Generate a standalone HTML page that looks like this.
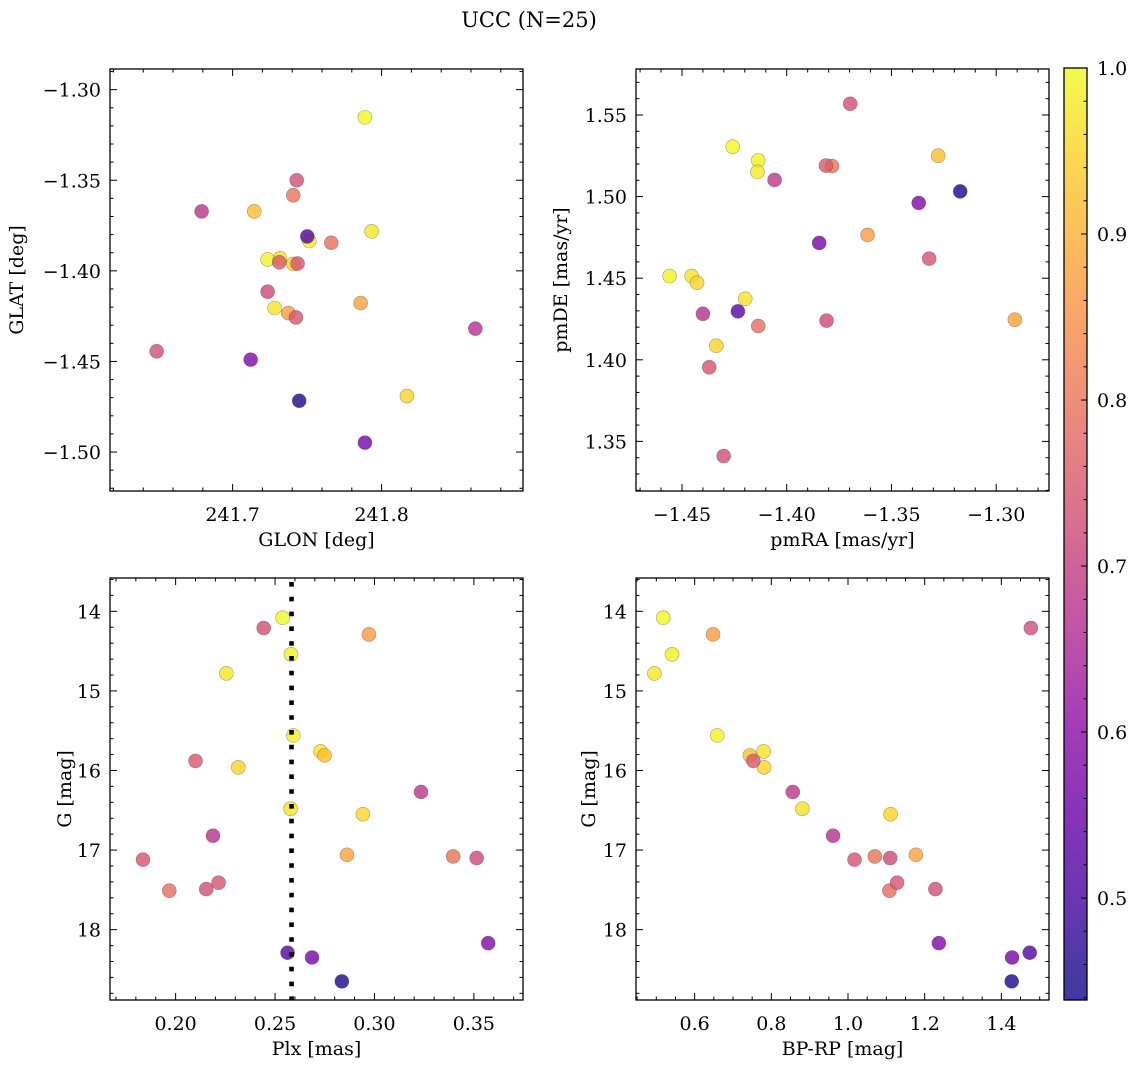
<!DOCTYPE html>
<html><head><meta charset="utf-8"><style>
html,body{margin:0;padding:0;background:#fff;}
svg{display:block;font-family:"DejaVu Serif","Liberation Serif",serif;}
</style></head><body>
<svg id="fig" width="1136" height="1068" viewBox="0 0 1136 1068" xmlns="http://www.w3.org/2000/svg">
<defs>
<linearGradient id="plasma" x1="0" y1="1" x2="0" y2="0">
<stop offset="0" stop-color="#0d0887"/><stop offset="0.1" stop-color="#41049d"/><stop offset="0.2" stop-color="#6a00a8"/><stop offset="0.3" stop-color="#8f0da4"/><stop offset="0.4" stop-color="#b12a90"/><stop offset="0.5" stop-color="#cc4778"/><stop offset="0.6" stop-color="#e16462"/><stop offset="0.7" stop-color="#f2844b"/><stop offset="0.8" stop-color="#fca636"/><stop offset="0.9" stop-color="#fcce25"/><stop offset="1" stop-color="#f0f921"/>
</linearGradient>
</defs>
<text x="529" y="27" text-anchor="middle" font-size="21">UCC (N=25)</text>
</svg>
<script>
const glon = [241.7888,241.7515,241.7933,241.7235,241.7318,241.7407,241.7282,241.8170,241.7145,241.7374,241.7859,241.7407,241.7662,241.7430,241.7313,241.7436,241.7235,241.7425,241.6490,241.6792,241.8629,241.7121,241.7888,241.7501,241.7447];
const glat = [-1.3153,-1.3835,-1.3782,-1.3937,-1.3931,-1.3962,-1.4205,-1.4691,-1.3672,-1.4233,-1.4178,-1.3583,-1.3845,-1.3500,-1.3953,-1.3960,-1.4115,-1.4257,-1.4444,-1.3672,-1.4319,-1.4490,-1.4948,-1.3810,-1.4717];
const pmra = [-1.4258,-1.4136,-1.4140,-1.4559,-1.4454,-1.4428,-1.4198,-1.4336,-1.3277,-1.3614,-1.2911,-1.3784,-1.4136,-1.3697,-1.3813,-1.3320,-1.3810,-1.4370,-1.4301,-1.4058,-1.4400,-1.3370,-1.3845,-1.4233,-1.3172];
const pmde = [1.5306,1.5222,1.5151,1.4513,1.4513,1.4472,1.4374,1.4086,1.5251,1.4765,1.4246,1.5187,1.4207,1.5569,1.5190,1.4620,1.4240,1.3954,1.3410,1.5102,1.4282,1.4961,1.4716,1.4297,1.5032];
const plx = [0.2538,0.2580,0.2255,0.2592,0.2729,0.2315,0.2578,0.2942,0.2749,0.2972,0.2862,0.3396,0.1968,0.2443,0.2100,0.1836,0.3514,0.2216,0.2154,0.3234,0.2188,0.3572,0.2686,0.2563,0.2836];
const gmag = [14.08,14.54,14.78,15.56,15.76,15.96,16.48,16.55,15.81,14.29,17.06,17.08,17.51,14.21,15.88,17.12,17.10,17.41,17.49,16.27,16.82,18.17,18.35,18.29,18.65];
const bprp = [0.518,0.541,0.495,0.659,0.780,0.781,0.881,1.111,0.744,0.648,1.177,1.070,1.108,1.477,0.753,1.017,1.110,1.128,1.228,0.856,0.961,1.237,1.428,1.474,1.427];
const prob = [1.00,0.99,0.98,0.99,0.97,0.95,0.97,0.95,0.92,0.87,0.88,0.80,0.79,0.73,0.75,0.74,0.72,0.74,0.73,0.68,0.67,0.58,0.57,0.52,0.45];
const plxMedian = 0.2583;
const cbTicks = [0.5,0.6,0.7,0.8,0.9,1.0];

const NS="http://www.w3.org/2000/svg";
const svg=document.getElementById('fig');
const vmin=0.4386, vmax=1.0;
const stops=[[13,8,135],[65,4,157],[106,0,168],[143,13,164],[177,42,144],[204,71,120],[225,100,98],[242,132,75],[252,166,54],[252,206,37],[240,249,33]];
function cmap(v){let t=(v-vmin)/(vmax-vmin);t=Math.max(0,Math.min(1,t));const f=t*10;const i=Math.min(9,Math.floor(f));const r=f-i;const a=stops[i],b=stops[i+1];
return 'rgb('+[0,1,2].map(k=>Math.round(a[k]+(b[k]-a[k])*r)).join(',')+')';}
function mk(tag,attrs,parent){const e=document.createElementNS(NS,tag);for(const k in attrs)e.setAttribute(k,attrs[k]);(parent||svg).appendChild(e);return e;}
function fmt(v,d){const s=Math.abs(v).toFixed(d);return (v<0?'\u2212':'')+s;}
const FS=19;
const panels=[
 {name:'sky',x:110,y:69,xs:glon,ys:glat,xmin:241.6177,xmax:241.8949,ymin:-1.5215,ymax:-1.2886,inv:false,
  xmaj:[241.7,241.8],xminor:0.02,xd:1,ymaj:[-1.50,-1.45,-1.40,-1.35,-1.30],yminor:0.01,yd:2,xl:'GLON [deg]',yl:'GLAT [deg]',ylx:18},
 {name:'pm',x:636,y:69,xs:pmra,ys:pmde,xmin:-1.47195,xmax:-1.2748,ymin:1.3196,ymax:1.5782,inv:false,
  xmaj:[-1.45,-1.40,-1.35,-1.30],xminor:0.01,xd:2,ymaj:[1.35,1.40,1.45,1.50,1.55],yminor:0.01,yd:2,xl:'pmRA [mas/yr]',yl:'pmDE [mas/yr]',ylx:562},
 {name:'plx-g',x:110,y:578,xs:plx,ys:gmag,xmin:0.167,xmax:0.3747,ymin:13.581,ymax:18.884,inv:true,
  xmaj:[0.20,0.25,0.30,0.35],xminor:0.01,xd:2,ymaj:[14,15,16,17,18],yminor:0.2,yd:0,xl:'Plx [mas]',yl:'G [mag]',ylx:66},
 {name:'cmd',x:636,y:578,xs:bprp,ys:gmag,xmin:0.447,xmax:1.5243,ymin:13.581,ymax:18.884,inv:true,
  xmaj:[0.6,0.8,1.0,1.2,1.4],xminor:0.05,xd:1,ymaj:[14,15,16,17,18],yminor:0.2,yd:0,xl:'BP-RP [mag]',yl:'G [mag]',ylx:590}
];
const W=413,H=422;
panels.forEach(p=>{
 const g=mk('g',{});
 
 
 const X=v=>p.x+(v-p.xmin)/(p.xmax-p.xmin)*W;
 const Y=v=>p.inv? p.y+(v-p.ymin)/(p.ymax-p.ymin)*H : p.y+H-(v-p.ymin)/(p.ymax-p.ymin)*H;
 const tk=mk('g',{stroke:'#000','stroke-width':1},g);
 
 
 for(let v=Math.ceil(p.xmin/p.xminor-1e-6)*p.xminor;v<=p.xmax;v+=p.xminor){const px=X(v);
  const maj=p.xmaj.some(m=>Math.abs(m-v)<p.xminor/10);const L=maj?7:3.5;
  mk('line',{x1:px,x2:px,y1:p.y+H,y2:p.y+H-L},tk);mk('line',{x1:px,x2:px,y1:p.y,y2:p.y+L},tk);}
 for(let v=Math.ceil(p.ymin/p.yminor-1e-6)*p.yminor;v<=p.ymax;v+=p.yminor){const py=Y(v);
  const maj=p.ymaj.some(m=>Math.abs(m-v)<p.yminor/10);const L=maj?7:3.5;
  mk('line',{x1:p.x,x2:p.x+L,y1:py,y2:py},tk);mk('line',{x1:p.x+W,x2:p.x+W-L,y1:py,y2:py},tk);}
 p.xmaj.forEach(v=>{const t=mk('text',{x:X(v),y:p.y+H+30,'text-anchor':'middle','font-size':FS},g);t.textContent=fmt(v,p.xd);
  
  });
 p.ymaj.forEach(v=>{const t=mk('text',{x:p.x-9,y:Y(v)+7,'text-anchor':'end','font-size':FS},g);t.textContent=fmt(v,p.yd);
  
  });
 const xl=mk('text',{x:p.x+W/2,y:p.y+H+55,'text-anchor':'middle','font-size':FS},g);xl.textContent=p.xl;
 
 
 const yl=mk('text',{x:p.ylx,y:p.y+H/2,'text-anchor':'middle','font-size':FS,transform:'rotate(-90 '+p.ylx+' '+(p.y+H/2)+')','dominant-baseline':'middle'},g);yl.textContent=p.yl;
 
 
 p.xs.forEach((xv,i)=>{const c=mk('circle',{cx:X(xv),cy:Y(p.ys[i]),r:7,fill:cmap(prob[i]),'fill-opacity':0.8,stroke:'rgba(60,60,60,0.45)','stroke-width':0.6},g);
  
  });
 if(p.name==='plx-g'){const ln=mk('line',{x1:X(plxMedian),x2:X(plxMedian),y1:p.y+4,y2:p.y+H,stroke:'#000','stroke-width':4.6,'stroke-dasharray':'4.6 10.2'},g);
  
  }
 const fr=mk('rect',{x:p.x,y:p.y,width:W,height:H,fill:'none',stroke:'#000','stroke-width':1.3},g);
 
 
});
const cb=mk('g',{});


const cbx=1064,cby=68,cbw=23,cbh=932;
mk('rect',{x:cbx,y:cby,width:cbw,height:cbh,fill:'url(#plasma)','fill-opacity':0.8},cb);
const CY=v=>cby+(vmax-v)/(vmax-vmin)*cbh;
for(let v=0.44;v<=1.0001;v+=0.02){const py=CY(v);const maj=Math.abs(v*10-Math.round(v*10))<1e-6;
 mk('line',{x1:cbx+cbw,x2:cbx+cbw-(maj?6:3.5),y1:py,y2:py,stroke:'#000','stroke-width':1},cb);}
cbTicks.forEach(v=>{const t=mk('text',{x:cbx+cbw+10,y:CY(v)+7,'font-size':FS},cb);t.textContent=v.toFixed(1);
 
 });
mk('rect',{x:cbx,y:cby,width:cbw,height:cbh,fill:'none',stroke:'#000','stroke-width':1.3},cb);
</script>
</body></html>
